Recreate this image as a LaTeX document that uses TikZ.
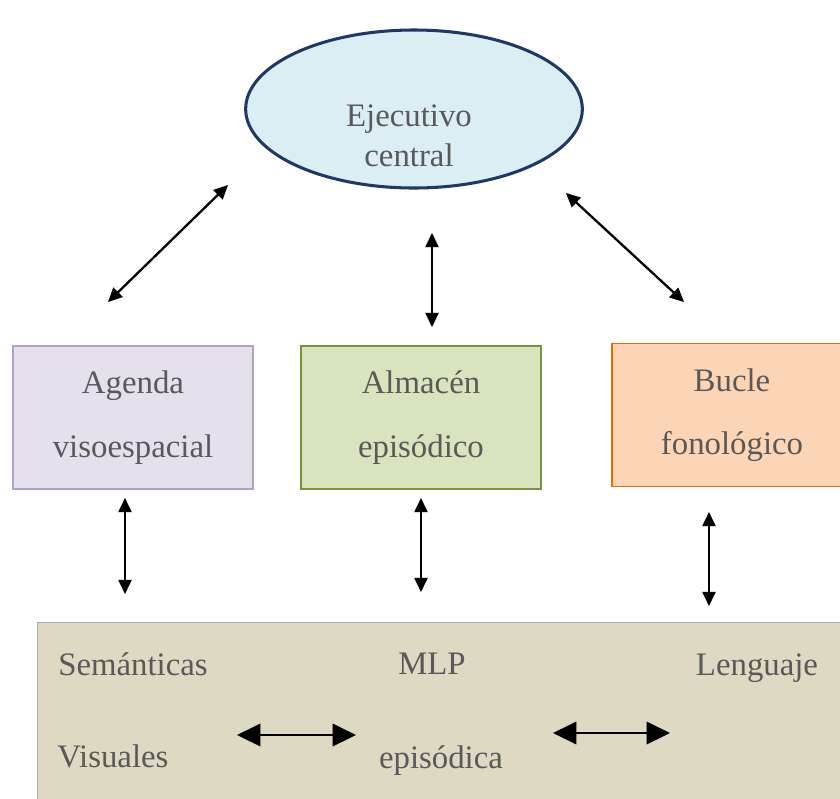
\documentclass[tikz,border=0pt]{standalone}
\usepackage{fontspec}
\setmainfont{Liberation Serif}
\usepackage{xcolor}
\usetikzlibrary{arrows.meta,shapes.geometric,positioning}
\definecolor{Txt}{HTML}{595959}
\definecolor{ExecLine}{HTML}{1F3864}
\definecolor{ExecFill}{HTML}{DBEEF4}
\definecolor{AgLine}{HTML}{B2A1C7}
\definecolor{AgFill}{HTML}{E5E0EC}
\definecolor{AlLine}{HTML}{77933C}
\definecolor{AlFill}{HTML}{D7E4BD}
\definecolor{BuLine}{HTML}{E36C09}
\definecolor{BuFill}{HTML}{FBD5B5}
\definecolor{MlpFill}{HTML}{DDD9C3}

\begin{document}
\begin{tikzpicture}[x=0.03cm,y=-0.03cm,font=\fontsize{28}{34}\selectfont,text=Txt,
  box/.style={draw,line width=1.2pt,minimum width=7.2cm,minimum height=4.3cm,align=center},
  link/.style={{Triangle[length=12pt,width=11pt]}-{Triangle[length=12pt,width=11pt]},line width=1.9pt},
  biglink/.style={{Triangle[length=20pt,width=19pt]}-{Triangle[length=20pt,width=19pt]},line width=2.4pt},
  shade/.style={draw=black!22,shift={(3,4)}}]
  \clip (0,0) rectangle (840,798);

  % central executive
  \node[ellipse,draw=ExecLine,line width=2.6pt,fill=ExecFill,inner sep=0pt,
        minimum width=10.1cm,minimum height=4.74cm] (ejec) at (414,109) {};
  \node[align=center] (ejecTxt) at (409,136) {Ejecutivo\\central};

  % slave systems
  \node[box,draw=AgLine,fill=AgFill] (agenda) at (133,417.5) {Agenda\\[20pt]visoespacial};
  \node[box,draw=AlLine,fill=AlFill] (almacen) at (421,417.5) {Almacén\\[20pt]episódico};
  \node[box,draw=BuLine,fill=BuFill] (bucle) at (732,415) {Bucle\\[20pt]fonológico};

  % long-term memory
  \node[draw=AgLine,line width=1.2pt,fill=MlpFill,minimum width=26cm,minimum height=8cm,
        anchor=north west] (mlp) at (37,622) {};
  \node (sem) at (133,664) {Semánticas};
  \node (mlpA) at (432,664) {MLP};
  \node (len) at (757,668) {Lenguaje};
  \node (vis) at (113,756) {Visuales};
  \node (mlpB) at (441,761) {episódica};

  % arrow ends
  \coordinate (ejL) at (228,185);   \coordinate (agT) at (108,302);
  \coordinate (ejM) at (432,233);   \coordinate (alT) at (432,327);
  \coordinate (ejR) at (566,193);   \coordinate (buT) at (684,302);
  \coordinate (agB) at (125,498);   \coordinate (mlL) at (125,594);
  \coordinate (alB) at (421,498);   \coordinate (mlM) at (421,592);
  \coordinate (buB) at (709,512);   \coordinate (mlR) at (709,606);
  \coordinate (visR) at (237,735);  \coordinate (epL) at (356,735);
  \coordinate (epR) at (553,733);   \coordinate (lenL) at (670,733);

  \foreach \a/\b in {ejL/agT,ejM/alT,ejR/buT,agB/mlL,alB/mlM,buB/mlR}{
    \draw[link,shade] (\a) -- (\b);
    \draw[link] (\a) -- (\b);
  }
  \foreach \a/\b in {visR/epL,epR/lenL}{
    \draw[biglink,shade] (\a) -- (\b);
    \draw[biglink] (\a) -- (\b);
  }
\end{tikzpicture}
\end{document}
